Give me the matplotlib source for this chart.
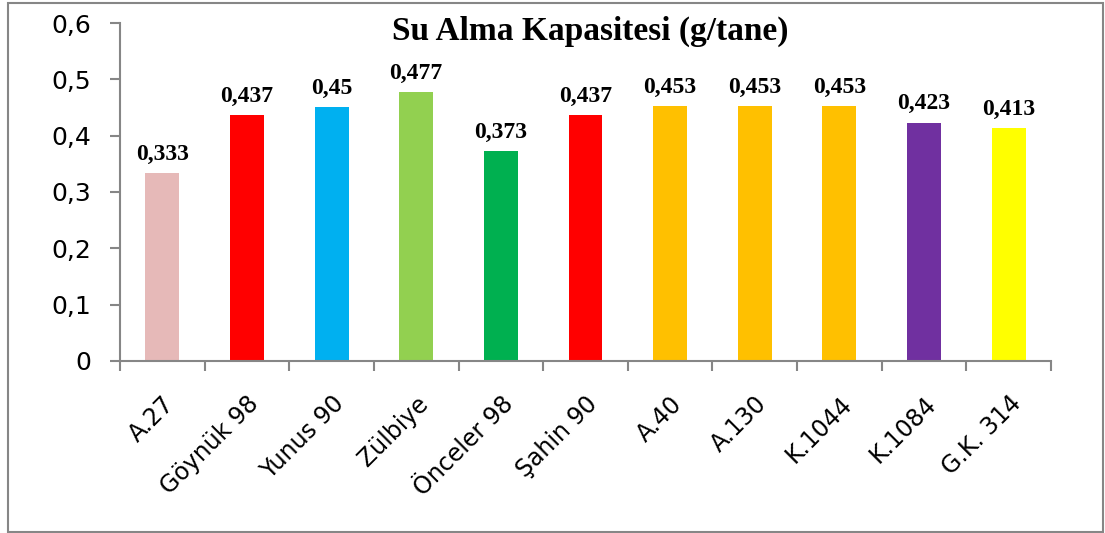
import matplotlib
matplotlib.use("Agg")
import matplotlib.pyplot as plt
from matplotlib.patches import Rectangle
from matplotlib.ticker import FuncFormatter

categories = ["A.27", "Göynük 98", "Yunus 90", "Zülbiye", "Önceler 98", "Şahin 90",
              "A.40", "A.130", "K.1044", "K.1084", "G.K. 314"]
values = [0.333, 0.437, 0.45, 0.477, 0.373, 0.437, 0.453, 0.453, 0.453, 0.423, 0.413]
value_labels = ["0,333", "0,437", "0,45", "0,477", "0,373", "0,437", "0,453", "0,453", "0,453", "0,423", "0,413"]
colors = ["#E6B9B8", "#FF0000", "#00B0F0", "#92D050", "#00B050", "#FF0000",
          "#FFC000", "#FFC000", "#FFC000", "#7030A0", "#FFFF00"]
yticks = [0, 0.1, 0.2, 0.3, 0.4, 0.5, 0.6]
title = "Su Alma Kapasitesi (g/tane)"

fig = plt.figure(figsize=(11.05, 5.33), dpi=100)
ax = fig.add_axes([120/1105, 1 - 361/533, (1051-120)/1105, (361-23)/533])

x = list(range(len(categories)))
ax.bar(x, values, width=0.40, color=colors, zorder=2)
for xi, v, lab in zip(x, values, value_labels):
    ax.annotate(lab, (xi, v), xytext=(0, 6), textcoords="offset points",
                ha="center", va="bottom", fontsize=17, fontweight="bold",
                family="Liberation Serif")

ax.set_xlim(-0.5, len(categories) - 0.5)
ax.set_ylim(0, 0.6)
ax.set_yticks(yticks)
ax.yaxis.set_major_formatter(FuncFormatter(lambda v, p: "0" if v == 0 else f"{v:.1f}".replace(".", ",")))

ax.set_xticks(x)
ax.set_xticklabels(categories, rotation=45, ha="right", rotation_mode="anchor",
                   fontsize=17, family="DejaVu Sans")
ax.set_xticks([i - 0.5 for i in range(len(categories) + 1)], minor=True)
ax.tick_params(axis="x", which="major", length=0, pad=22)
ax.tick_params(axis="x", which="minor", length=7, width=1.5, color="#868686", direction="out")
ax.tick_params(axis="y", length=7, width=1.5, color="#868686", direction="out", labelsize=18, pad=14)
for lab in ax.get_yticklabels():
    lab.set_family("DejaVu Sans")

for s in ["top", "right"]:
    ax.spines[s].set_visible(False)
for s in ["left", "bottom"]:
    ax.spines[s].set_color("#868686")
    ax.spines[s].set_linewidth(1.5)

fig.text(590/1105, 1 - 31/533, title, ha="center", va="center",
         fontsize=24, fontweight="bold", family="Liberation Serif")

fig.patches.append(Rectangle((8/1105, 1/533), (1103-8)/1105, (531-2)/533,
                             transform=fig.transFigure, fill=False,
                             edgecolor="#868686", linewidth=1.5))

fig.savefig("out.png", dpi=100)
